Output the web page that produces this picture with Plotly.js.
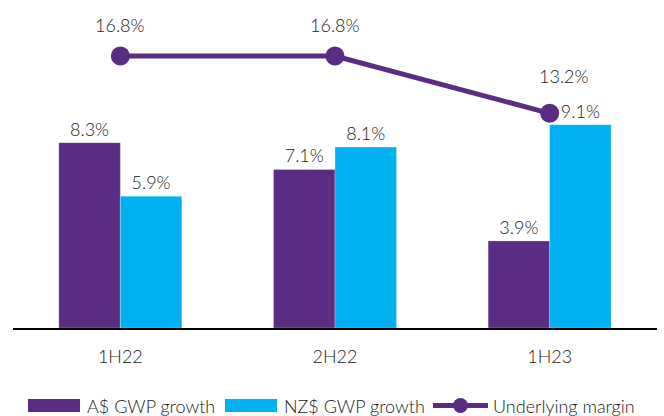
<!DOCTYPE html>
<html>
<head>
<meta charset="utf-8">
<script src="https://cdn.plot.ly/plotly-3.0.1.min.js"></script>
<style>html,body{margin:0;padding:0;background:#fff;}#chart{width:664px;height:416px;}</style>
</head>
<body>
<div id="chart"></div>
<script>
const categories = ['1H22', '2H22', '1H23'];
const audGrowth = [8.3, 7.1, 3.9];
const nzdGrowth = [5.9, 8.1, 9.1];
const underlyingMargin = [16.8, 16.8, 13.2];
const seriesNames = ['A$ GWP growth', 'NZ$ GWP growth', 'Underlying margin'];

const PURPLE = '#5B2C83';
const CYAN = '#00B0F0';
const TXT = '#222222';
const FONT = 'Lato, "Source Sans Pro", sans-serif';
const FS = 18;
const FW = 300;

const W = 664, H = 416;
const M = {l: 13, r: 7, t: 8, b: 88};
const px = x => (x - M.l) / (W - M.l - M.r);
const py = y => (H - M.b - y) / (H - M.t - M.b);
const fnt = () => ({family: FONT, size: FS, color: TXT, weight: FW});

const traces = [
  {type: 'bar', x: categories, y: audGrowth, name: seriesNames[0],
   marker: {color: PURPLE, line: {color: 'rgba(255,255,255,0.5)', width: 0.5}},
   texttemplate: '%{y:.1f}%', textposition: 'outside', cliponaxis: false,
   textfont: fnt(), showlegend: false, hoverinfo: 'skip'},
  {type: 'bar', x: categories, y: nzdGrowth, name: seriesNames[1],
   marker: {color: CYAN, line: {color: 'rgba(255,255,255,0.5)', width: 0.5}},
   texttemplate: '%{y:.1f}%', textposition: 'outside', cliponaxis: false,
   textfont: fnt(), showlegend: false, hoverinfo: 'skip'},
  {type: 'scatter', mode: 'lines+markers', x: categories, y: underlyingMargin, yaxis: 'y2',
   name: seriesNames[2], line: {color: PURPLE, width: 5},
   marker: {color: PURPLE, size: 19}, cliponaxis: false, showlegend: false, hoverinfo: 'skip'}
];

const labelShifts = [[0, 31], [0, 31], [14, 37]];
const annotations = underlyingMargin.map((v, i) => ({
  x: categories[i], y: v, xref: 'x', yref: 'y2', text: v.toFixed(1) + '%',
  showarrow: false, xshift: labelShifts[i][0], yshift: labelShifts[i][1],
  font: fnt()
}));

// custom legend
const legY = 405.5;
const legItems = [
  {x0: 28, x1: 80, tx: 85, kind: 'box', color: PURPLE, text: seriesNames[0]},
  {x0: 225, x1: 277, tx: 282, kind: 'box', color: CYAN, text: seriesNames[1]},
  {x0: 433, x1: 488, tx: 491, kind: 'line', color: PURPLE, text: seriesNames[2]}
];
const shapes = [];
legItems.forEach(it => {
  if (it.kind === 'box') {
    shapes.push({type: 'rect', xref: 'paper', yref: 'paper', x0: px(it.x0), x1: px(it.x1),
      y0: py(412), y1: py(399), fillcolor: it.color, line: {width: 0}});
  } else {
    shapes.push({type: 'line', xref: 'paper', yref: 'paper', x0: px(it.x0), x1: px(it.x1),
      y0: py(legY), y1: py(legY), line: {color: it.color, width: 5}});
    const c = (it.x0 + it.x1) / 2;
    shapes.push({type: 'circle', xref: 'paper', yref: 'paper', x0: px(c - 7.5), x1: px(c + 7.5),
      y0: py(legY + 7.5), y1: py(legY - 7.5), fillcolor: it.color, line: {width: 0}});
  }
  annotations.push({xref: 'paper', yref: 'paper', x: px(it.tx), y: py(legY), xanchor: 'left',
    yanchor: 'middle', text: it.text, showarrow: false, font: fnt()});
});

const layout = {
  width: W, height: H, margin: M,
  paper_bgcolor: '#fff', plot_bgcolor: '#fff',
  barmode: 'group', bargap: 0.427, bargroupgap: 0,
  showlegend: false,
  font: fnt(),
  xaxis: {type: 'category', showgrid: false, zeroline: false, showline: true,
    linecolor: '#000', linewidth: 2, ticks: '', ticklabelstandoff: 11,
    tickfont: fnt()},
  yaxis: {range: [0, 14.33], visible: false, showgrid: false, zeroline: false},
  yaxis2: {range: [-0.285, 19.815], overlaying: 'y', side: 'right', visible: false,
    showgrid: false, zeroline: false},
  annotations: annotations,
  shapes: shapes
};

Plotly.newPlot('chart', traces, layout, {displayModeBar: false, staticPlot: true});
</script>
</body>
</html>
